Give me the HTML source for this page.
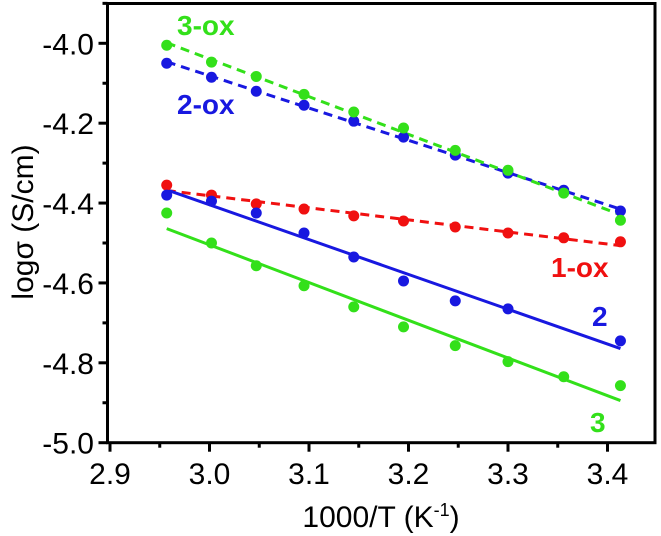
<!DOCTYPE html>
<html><head><meta charset="utf-8"><style>
html,body{margin:0;padding:0;background:#fff}
svg{display:block;font-family:"Liberation Sans",sans-serif}
</style></head><body>
<svg id="c" width="661" height="536"></svg>
<script>
const xs=[2.957,3.002,3.047,3.095,3.145,3.195,3.247,3.300,3.356,3.413];
const s3ox=[-4.005,-4.047,-4.083,-4.128,-4.172,-4.212,-4.268,-4.318,-4.375,-4.443];
const s2ox=[-4.05,-4.085,-4.12,-4.155,-4.195,-4.235,-4.28,-4.325,-4.368,-4.42];
const s1ox=[-4.355,-4.38,-4.402,-4.415,-4.432,-4.445,-4.46,-4.475,-4.487,-4.497];
const s2=[-4.38,-4.395,-4.425,-4.475,-4.535,-4.595,-4.645,-4.665,null,-4.745];
const s3=[-4.425,-4.5,-4.557,-4.607,-4.66,-4.71,-4.757,-4.797,-4.835,-4.857];
const xTicks=[2.9,3.0,3.1,3.2,3.3,3.4];
const xTickLabels=["2.9","3.0","3.1","3.2","3.3","3.4"];
const yTicks=[-4.0,-4.2,-4.4,-4.6,-4.8,-5.0];
const yTickLabels=["-4.0","-4.2","-4.4","-4.6","-4.8","-5.0"];
const NS="http://www.w3.org/2000/svg";
const svg=document.getElementById('c');
const X=v=>110+(v-2.9)*995;
const Y=v=>442.7-(v+5.0)*399.4;
function mk(t,a,p){const e=document.createElementNS(NS,t);for(const k in a)e.setAttribute(k,a[k]);(p||svg).appendChild(e);return e;}
const L=107.5,R=655,T=3.5,B=442.7;
function fit(ys){let n=0,sx=0,sy=0,sxx=0,sxy=0;xs.forEach((x,i)=>{const y=ys[i];if(y==null)return;n++;sx+=x;sy+=y;sxx+=x*x;sxy+=x*y;});const m=(n*sxy-sx*sy)/(n*sxx-sx*sx);return [m,(sy-m*sx)/n];}
const series=[
 {ys:s1ox,c:'#f01010',dash:true,name:'1-ox'},
 {ys:s2ox,c:'#1818e0',dash:true,name:'2-ox'},
 {ys:s3ox,c:'#33e01a',dash:true,name:'3-ox'},
 {ys:s2,c:'#1818e0',dash:false,name:'2'},
 {ys:s3,c:'#33e01a',dash:false,name:'3'}];
series.forEach(s=>{
 const [m,b]=fit(s.ys);const x0=xs[0],x1=xs[xs.length-1];
 const ln=mk('line',{x1:X(x0),y1:Y(m*x0+b),x2:X(x1),y2:Y(m*x1+b),stroke:s.c,'stroke-width':3,'stroke-dasharray':s.dash?'9,6':'none'});
 
 
});
series.forEach(s=>{
 s.ys.forEach((y,i)=>{if(y==null)return;
  const c=mk('circle',{cx:X(xs[i]),cy:Y(y),r:5.5,fill:s.c});
  
  
 });
});
const fr=mk('rect',{x:L,y:T,width:R-L,height:B-T,fill:'none',stroke:'#000','stroke-width':3});


xTicks.forEach((v,i)=>{
 mk('line',{x1:X(v),y1:B,x2:X(v),y2:B+9,stroke:'#000','stroke-width':3});
 if(i<xTicks.length-1){mk('line',{x1:X(v+0.05),y1:B,x2:X(v+0.05),y2:B+5,stroke:'#000','stroke-width':3});}
 const t=mk('text',{x:X(v),y:484,'text-anchor':'middle','font-size':30,fill:'#000'});t.textContent=xTickLabels[i];
 
 
});
yTicks.forEach((v,i)=>{
 mk('line',{x1:L,y1:Y(v),x2:L-9,y2:Y(v),stroke:'#000','stroke-width':3});
 mk('line',{x1:L,y1:Y(v+0.1),x2:L-5,y2:Y(v+0.1),stroke:'#000','stroke-width':3});
 const t=mk('text',{x:94,y:Y(v)+11,'text-anchor':'end','font-size':30,fill:'#000'});t.textContent=yTickLabels[i];
 
 
});
const xt=mk('text',{x:381,y:527,'text-anchor':'middle','font-size':30,fill:'#000'});
xt.innerHTML='1000/T (K<tspan dy="-11" font-size="18">-1</tspan><tspan dy="11">)</tspan>';


const yt=mk('text',{x:0,y:0,'text-anchor':'middle','font-size':30,fill:'#000',transform:'translate(33,222) rotate(-90)'});
yt.textContent='logσ (S/cm)';


const labs=[['3-ox',177,35,'#33e01a'],['2-ox',177,114,'#1818e0'],['1-ox',551,277,'#f01010'],['2',592,326,'#1818e0'],['3',590,432,'#33e01a']];
labs.forEach(l=>{const t=mk('text',{x:l[1],y:l[2],'font-size':28,'font-weight':'bold','text-anchor':'start',fill:l[3]});t.textContent=l[0];
 
 });
</script>
</body></html>
